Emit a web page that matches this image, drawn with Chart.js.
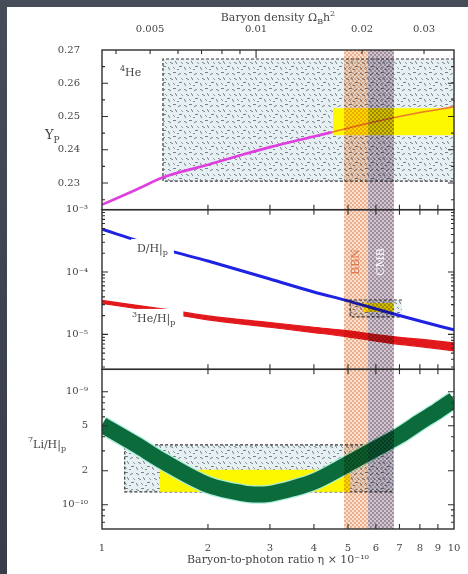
<!DOCTYPE html>
<html lang="en">
<head>
<meta charset="utf-8">
<title>Big-bang nucleosynthesis abundances</title>
<script src="https://cdn.jsdelivr.net/npm/chart.js@4.4.1/dist/chart.umd.min.js"></script>
<style>
  html, body { margin: 0; padding: 0; }
  body { width: 468px; height: 574px; overflow: hidden; position: relative;
         background: linear-gradient(180deg, #474c59 0%, #3e4351 50%, #393d49 100%); }
  #sheet { position: absolute; left: 7px; top: 7px; width: 461px; height: 567px; background: #ffffff; }
  canvas { display: block; }
</style>
</head>
<body>
<div id="sheet"><canvas id="bbn" width="461" height="567"></canvas></div>
<script>
// ---- predicted abundances vs baryon-to-photon ratio η (in units of 10⁻¹⁰) ----
const etaHe4 = [1, 1.25, 1.5, 2, 2.5, 3, 4, 4.5, 5, 6, 7, 8, 10];
const yHe4   = [0.2235, 0.2280, 0.2318, 0.2355, 0.2385, 0.2408, 0.2440, 0.2453, 0.2465, 0.2485, 0.2500, 0.2512, 0.2529];
const HE4_OBS_START = 7;   // index of the first point inside the observed Yp band

const etaLight = [1, 1.5, 2, 3, 4, 5, 6, 7, 8, 10];
const dOverH   = [4.88e-4, 2.33e-4, 1.50e-4, 7.73e-5, 4.79e-5, 3.44e-5, 2.56e-5, 2.01e-5, 1.64e-5, 1.18e-5];
// ³He/H is drawn as a band that widens with η
const he3High  = [3.50e-5, 2.54e-5, 1.98e-5, 1.55e-5, 1.30e-5, 1.14e-5, 9.91e-6, 8.96e-6, 8.38e-6, 7.31e-6];
const he3Low   = [3.13e-5, 2.23e-5, 1.71e-5, 1.30e-5, 1.07e-5, 9.13e-6, 7.80e-6, 6.92e-6, 6.38e-6, 5.44e-6];

const etaLi    = [1, 1.25, 1.5, 2, 2.5, 2.75, 3, 3.5, 4, 5, 6, 7, 8, 9, 10];
const li7OverH = [5.1e-10, 3.4e-10, 2.4e-10, 1.5e-10, 1.27e-10, 1.23e-10, 1.25e-10, 1.4e-10, 1.6e-10, 2.3e-10, 3.15e-10, 4.1e-10, 5.4e-10, 6.8e-10, 8.5e-10];

// observed abundances: [η low, η high, abundance low, abundance high]
const he4Wide   = [1.49, 10, 0.2306, 0.2673];
const he4Narrow = [4.53, 10, 0.2444, 0.2525];
const dWide     = [5.07, 7.11, 1.91e-5, 3.56e-5];
const dNarrow   = [5.51, 6.71, 2.29e-5, 3.19e-5];
const liWide    = [1.16, 6.71, 1.30e-10, 3.39e-10];
const liNarrow  = [1.46, 5.07, 1.30e-10, 2.04e-10];

// η ranges favoured by BBN and by the CMB
const bbnBand = [4.87, 5.70];
const cmbBand = [5.70, 6.75];

// axis ranges
const etaRange = [1, 10];
const OMEGA_PER_ETA = 0.00365;          // Ω_B h² for η = 1×10⁻¹⁰
const ypRange = [0.222, 0.27];
const dRange  = [2.75e-6, 1e-3];
const liRange = [6.1e-11, 1.58e-9];

// ticks and their labels
const etaTicks = [1, 2, 3, 4, 5, 6, 7, 8, 9, 10];
const etaTickLabels = ['1', '2', '3', '4', '5', '6', '7', '8', '9', '10'];
const omegaTicks = [0.005, 0.01, 0.02, 0.03];
const omegaTickLabels = ['0.005', '0.01', '0.02', '0.03'];
const omegaMinorTicks = [0.004, 0.006, 0.007, 0.008, 0.009];
const ypTicks = [0.23, 0.24, 0.25, 0.26, 0.27];
const ypTickLabels = ['0.23', '0.24', '0.25', '0.26', '0.27'];
const ypMinorTicks = [0.225, 0.235, 0.245, 0.255, 0.265];
const dTicks = [1e-5, 1e-4, 1e-3];
const dTickLabels = ['10⁻⁵', '10⁻⁴', '10⁻³'];
const liTicks = [1e-10, 2e-10, 5e-10, 1e-9];
const liTickLabels = ['10⁻¹⁰', '2', '5', '10⁻⁹'];

// ---------------------------------------------------------------------------
const SERIF = "'DejaVu Serif', 'Liberation Serif', serif";
const INK = '#444444';
const FRAME = '#2e2e2e';
const ctx = document.getElementById('bbn').getContext('2d');

function pts(xs, ys) { return xs.map((x, i) => ({ x, y: ys[i] })); }
function fixedTicks(values) { return scale => { scale.ticks = values.map(value => ({ value })); }; }
function setFont(c, size) { c.font = size + 'px ' + SERIF; }

// fine cross-hatching for the η bands
function makeHatch(bg, ink) {
  const t = document.createElement('canvas');
  t.width = t.height = 4;
  const g = t.getContext('2d');
  g.fillStyle = bg; g.fillRect(0, 0, 4, 4);
  g.fillStyle = ink;
  for (let i = 0; i < 4; i++) { g.fillRect(i, i, 1, 1); g.fillRect(3 - i, i, 1, 1); }
  return ctx.createPattern(t, 'repeat');
}
// speckled texture for the wide observational boxes
function makeStipple() {
  const t = document.createElement('canvas');
  t.width = t.height = 16;
  const g = t.getContext('2d');
  g.fillStyle = '#e6eff2'; g.fillRect(0, 0, 16, 16);
  g.strokeStyle = '#717d86'; g.lineWidth = 1; g.lineCap = 'round';
  const marks = [[1,2,3,3],[6,1,8,1],[11,3,13,2],[14,7,15,8],[3,7,5,8],[8,6,9,8],[12,11,14,11],
                 [1,12,2,14],[6,12,7,13],[10,14,11,14]];
  g.beginPath();
  for (const [a, b, c, d] of marks) { g.moveTo(a + 0.5, b + 0.5); g.lineTo(c + 0.5, d + 0.5); }
  g.stroke();
  return ctx.createPattern(t, 'repeat');
}
const bbnFill = makeHatch('#fbe1cd', '#ecb08e');
const cmbFill = makeHatch('#d2c6d0', '#9e8c9c');
const stippleFill = makeStipple();

// text made of pieces [text, size, baseline shift]
function richWidth(c, pieces) {
  let w = 0;
  for (const [t, s] of pieces) { setFont(c, s); w += c.measureText(t).width; }
  return w;
}
function drawRich(c, pieces, x, y, align) {
  const w = richWidth(c, pieces);
  let cx = align === 'center' ? x - w / 2 : align === 'right' ? x - w : x;
  c.textAlign = 'left'; c.textBaseline = 'alphabetic';
  for (const [t, s, dy] of pieces) { setFont(c, s); c.fillText(t, cx, y + (dy || 0)); cx += c.measureText(t).width; }
}

function rectOf(X, Y, box) {
  const x1 = X.getPixelForValue(box[0]), x2 = X.getPixelForValue(box[1]);
  const y1 = Y.getPixelForValue(box[3]), y2 = Y.getPixelForValue(box[2]);
  return { x: x1, y: y1, w: x2 - x1, h: y2 - y1 };
}
function clipPanel(c, X, Y) {
  c.beginPath(); c.rect(X.left, Y.top, X.right - X.left, Y.bottom - Y.top); c.clip();
}
function logMinor(lo, hi, skip) {
  const out = [];
  for (let e = Math.floor(Math.log10(lo)); e <= Math.ceil(Math.log10(hi)); e++) {
    for (let k = 2; k <= 9; k++) {
      const v = k * Math.pow(10, e);
      if (v > lo && v < hi && !skip.some(s => Math.abs(s - v) / v < 1e-6)) out.push(v);
    }
  }
  return out;
}

const decor = {
  id: 'decor',
  beforeDatasetsDraw(chart) {
    const c = chart.ctx, X = chart.scales.x;
    const sets = [['yp', he4Wide, he4Narrow], ['dh', dWide, dNarrow], ['li', liWide, liNarrow]];
    for (const [id, wide, narrow] of sets) {
      const Y = chart.scales[id];
      c.save();
      clipPanel(c, X, Y);
      const r = rectOf(X, Y, wide);
      c.fillStyle = stippleFill;
      c.fillRect(r.x, r.y, r.w, r.h);
      c.strokeStyle = '#3a3a3a'; c.lineWidth = 1.2; c.setLineDash([3, 2]);
      c.beginPath();
      c.moveTo(r.x + r.w, r.y); c.lineTo(r.x, r.y); c.lineTo(r.x, r.y + r.h); c.lineTo(r.x + r.w, r.y + r.h);
      c.stroke();
      c.setLineDash([]);
      const n = rectOf(X, Y, narrow);
      c.fillStyle = '#fdf700';
      c.fillRect(n.x, n.y, n.w, n.h);
      c.restore();
    }
  },
  afterDatasetsDraw(chart) {
    const c = chart.ctx, X = chart.scales.x, T = chart.scales.omega;
    const YP = chart.scales.yp, DH = chart.scales.dh, LI = chart.scales.li;
    const panels = [YP, DH, LI];

    // curve labels, each on a white patch that interrupts its line
    c.save();
    const curveLabels = [
      { Y: YP, x: 1.125, y: 0.2622, pieces: [['4', 8, -5], ['He', 11, 0]], pad: 0 },
      { Y: DH, x: 1.257, y: 2.09e-4, pieces: [['D/H|', 11, 0], ['p', 8, 3]], pad: 6 },
      { Y: DH, x: 1.217, y: 1.585e-5, pieces: [['3', 8, -5], ['He/H|', 11, 0], ['p', 8, 3]], pad: 8 }
    ];
    for (const L of curveLabels) {
      const px = X.getPixelForValue(L.x), py = L.Y.getPixelForValue(L.y);
      if (L.pad) {
        const w = richWidth(c, L.pieces);
        c.fillStyle = '#ffffff';
        c.fillRect(px - L.pad, py - 13, w + 2 * L.pad, 19);
      }
      c.fillStyle = INK;
      drawRich(c, L.pieces, px, py, 'left');
    }
    c.restore();

    // η bands across all three panels
    c.save();
    c.globalCompositeOperation = 'multiply';
    for (const [band, fill] of [[bbnBand, bbnFill], [cmbBand, cmbFill]]) {
      const x1 = X.getPixelForValue(band[0]), x2 = X.getPixelForValue(band[1]);
      c.fillStyle = fill;
      c.fillRect(x1, YP.top, x2 - x1, LI.bottom - YP.top);
    }
    c.restore();

    // band names, written upwards
    c.save();
    setFont(c, 11);
    c.textAlign = 'center'; c.textBaseline = 'middle';
    for (const [band, text, color] of [[bbnBand, 'BBN', '#dd7a50'], [cmbBand, 'CMB', '#f6f6ff']]) {
      const xc = X.getPixelForValue(Math.sqrt(band[0] * band[1]));
      const yc = DH.getPixelForValue(1.45e-4);
      c.save();
      c.translate(xc, yc); c.rotate(-Math.PI / 2);
      c.fillStyle = color;
      c.fillText(text, 0, 0);
      c.restore();
    }
    c.restore();

    // frames and inward tick marks
    c.save();
    c.strokeStyle = FRAME;
    c.lineWidth = 1.4;
    for (const P of panels) c.strokeRect(X.left, P.top, X.right - X.left, P.bottom - P.top);
    c.lineWidth = 1.1;
    c.beginPath();
    const inner = etaTicks.slice(1, -1);
    panels.forEach((P, i) => {
      for (const v of inner) {
        const x = X.getPixelForValue(v);
        if (i > 0) { c.moveTo(x, P.top); c.lineTo(x, P.top + 5); }
        c.moveTo(x, P.bottom); c.lineTo(x, P.bottom - 5);
      }
    });
    for (const v of omegaTicks.concat(omegaMinorTicks)) {
      const x = T.getPixelForValue(v);
      const len = v === 0.01 ? 8 : 4;
      c.moveTo(x, YP.top); c.lineTo(x, YP.top + len);
    }
    const yTickSets = [
      [YP, ypTicks, ypMinorTicks],
      [DH, dTicks, logMinor(dRange[0], dRange[1], dTicks)],
      [LI, liTicks, logMinor(liRange[0], liRange[1], liTicks)]
    ];
    for (const [P, major, minor] of yTickSets) {
      for (const [list, len] of [[major, 6], [minor, 3]]) {
        for (const v of list) {
          const y = P.getPixelForValue(v);
          if (y <= P.top + 0.5 || y >= P.bottom - 0.5) continue;
          c.moveTo(X.left, y); c.lineTo(X.left + len, y);
          c.moveTo(X.right, y); c.lineTo(X.right - len, y);
        }
      }
    }
    c.stroke();
    c.restore();

    // axis titles with sub- and superscripts
    c.save();
    c.fillStyle = INK;
    drawRich(c, [['Baryon density Ω', 11, 0], ['B', 8, 3], ['h', 11, 0], ['2', 8, -5]],
             (X.left + X.right) / 2, 14, 'center');
    drawRich(c, [['Y', 13, 0], ['P', 9, 4]], 38, (YP.top + YP.bottom) / 2 + 9, 'left');
    drawRich(c, [['7', 8, -6], ['Li/H|', 11, 0], ['p', 8, 3]], 21, (LI.top + LI.bottom) / 2 - 1, 'left');
    c.restore();
  }
};

function panelAxis(type, range, ticks, labels, weight, pad) {
  return {
    type, position: 'left', stack: 'panels', stackWeight: 1, weight,
    min: range[0], max: range[1],
    grid: { display: false }, border: { display: false },
    afterBuildTicks: fixedTicks(ticks),
    afterFit: s => { s.width = 95; },
    ticks: { callback: (v, i) => labels[i], font: { family: SERIF, size: 10 }, color: INK,
             padding: pad, autoSkip: false }
  };
}

// datasets listed first are painted last (on top)
function curve(data, yAxisID, color, width, fill) {
  return {
    data, xAxisID: 'x', yAxisID, borderColor: color, backgroundColor: color,
    borderWidth: width, pointRadius: 0, fill: fill || false, clip: 0,
    cubicInterpolationMode: 'monotone', borderCapStyle: 'butt', borderJoinStyle: 'round'
  };
}

new Chart(ctx, {
  type: 'line',
  data: {
    datasets: [
      curve(pts(etaHe4.slice(HE4_OBS_START), yHe4.slice(HE4_OBS_START)), 'yp', '#ec7a2a', 1.6),
      curve(pts(etaHe4.slice(0, HE4_OBS_START + 1), yHe4.slice(0, HE4_OBS_START + 1)), 'yp', '#df3fdf', 2.6),
      curve(pts(etaLight, dOverH), 'dh', '#1e22e2', 3),
      curve(pts(etaLight, he3High), 'dh', '#e2191c', 1.2, '+1'),
      curve(pts(etaLight, he3Low), 'dh', '#e2191c', 1.2),
      curve(pts(etaLi, li7OverH), 'li', '#0c6b3b', 16),
      curve(pts(etaLi, li7OverH), 'li', 'rgba(165,238,218,0.9)', 18.5)
    ]
  },
  options: {
    responsive: false,
    animation: false,
    devicePixelRatio: 1,
    events: [],
    layout: { padding: { left: 0, right: 14, top: 0, bottom: 0 } },
    plugins: { legend: { display: false }, tooltip: { enabled: false }, filler: { propagate: false } },
    scales: {
      x: {
        type: 'logarithmic', position: 'bottom', min: etaRange[0], max: etaRange[1],
        grid: { display: false }, border: { display: false },
        afterBuildTicks: fixedTicks(etaTicks),
        afterFit: s => { s.height = 45; },
        ticks: { callback: (v, i) => etaTickLabels[i], font: { family: SERIF, size: 10 }, color: INK,
                 padding: 5, autoSkip: false, maxRotation: 0 },
        title: { display: true, text: 'Baryon-to-photon ratio η × 10⁻¹⁰', color: INK,
                 font: { family: SERIF, size: 11 }, padding: { top: 0, bottom: 7 } }
      },
      omega: {
        type: 'logarithmic', position: 'top',
        min: etaRange[0] * OMEGA_PER_ETA, max: etaRange[1] * OMEGA_PER_ETA,
        grid: { display: false }, border: { display: false },
        afterBuildTicks: fixedTicks(omegaTicks),
        afterFit: s => { s.height = 43; },
        ticks: { callback: (v, i) => omegaTickLabels[i], font: { family: SERIF, size: 10 }, color: INK,
                 padding: 7, autoSkip: false, maxRotation: 0 }
      },
      yp: panelAxis('linear', ypRange, ypTicks, ypTickLabels, 3, 14),
      dh: panelAxis('logarithmic', dRange, dTicks, dTickLabels, 2, 6),
      li: panelAxis('logarithmic', liRange, liTicks, liTickLabels, 1, 6)
    }
  },
  plugins: [decor]
});
</script>
</body>
</html>
